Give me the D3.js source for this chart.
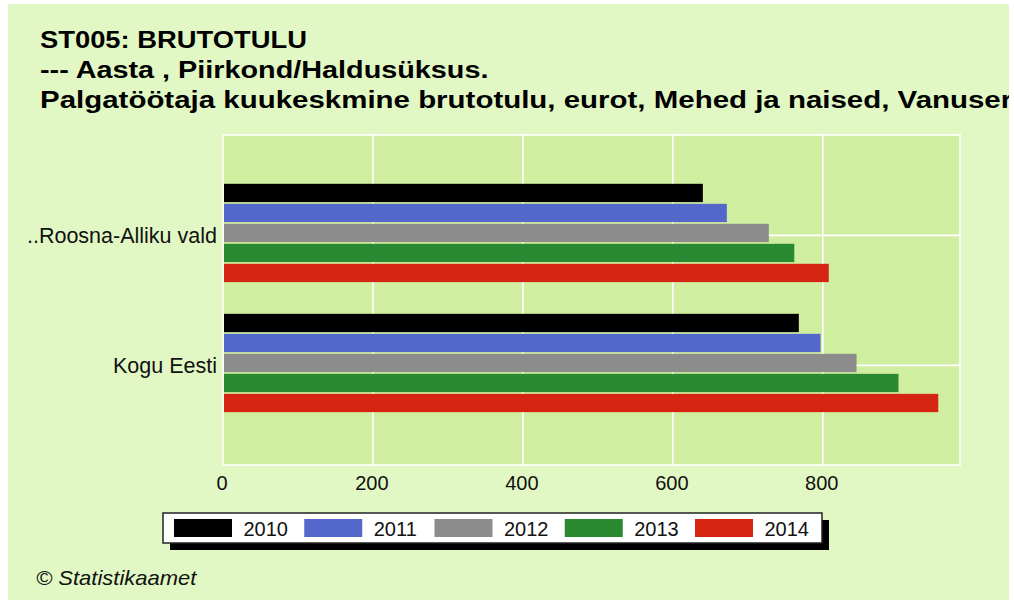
<!DOCTYPE html>
<html>
<head>
<meta charset="utf-8">
<script src="https://cdn.jsdelivr.net/npm/d3@7"></script>
<style>
  body { margin: 0; background: #ffffff; }
  svg { display: block; font-family: "Liberation Sans", Arial, sans-serif; }
</style>
</head>
<body>
<script>
// chart data
var categories = ["..Roosna-Alliku vald", "Kogu Eesti"];
var years = ["2010", "2011", "2012", "2013", "2014"];
var roosnaValues = [640, 672, 728, 762, 808];
var eestiValues = [768, 797, 845, 901, 954];
var xTicks = [0, 200, 400, 600, 800];
var xMax = 983;
var yearColors = ["#000000", "#5468cc", "#8c8c8c", "#2a8a32", "#d62412"];
var titleLines = [
  "ST005: BRUTOTULU",
  "--- Aasta , Piirkond/Haldusüksus.",
  "Palgatöötaja kuukeskmine brutotulu, eurot, Mehed ja naised, Vanuserühmad kokku"
];
var copyright = "© Statistikaamet";

function main(){
  var width = 1014, height = 600;
  var plot = {left: 223, right: 960, top: 135, bottom: 465};
  // the original font renders wider than Liberation, lowercase most of all
  var titleStretch = [1.14, 1.2, 1.228];

  var rows = categories.map(function(c, i){
    var vals = i == 0 ? roosnaValues : eestiValues;
    return {name: c, values: years.map(function(y, j){ return {year: y, value: vals[j], color: yearColors[j]}; })};
  });

  var svg = d3.select("body").append("svg")
    .attr("width", width)
    .attr("height", height);

  svg.append("clipPath").attr("id", "panelClip")
    .append("rect").attr("x", 8).attr("y", 4).attr("width", 1001).attr("height", 596);

  var panel = svg.append("g").attr("clip-path", "url(#panelClip)");
  panel.append("rect")
    .attr("x", 8).attr("y", 4).attr("width", 1001).attr("height", 596)
    .attr("fill", "#e2f8c4");

  // titles (last line runs past the panel edge, as in the original)
  panel.selectAll("text.title")
    .data(titleLines)
    .enter()
    .append("text")
    .attr("class", "title")
    .attr("transform", function(d, i){ return "translate(40," + (48 + i * 30) + ") scale(" + titleStretch[i] + ",1)"; })
    .attr("font-size", "24px")
    .attr("font-weight", "bold")
    .attr("fill", "#000")
    .text(function(d){ return d; });

  var x = d3.scaleLinear().domain([0, xMax]).range([plot.left, plot.right]);
  var y = d3.scaleBand().domain(categories).range([plot.top, plot.bottom])
    .paddingInner(0.244).paddingOuter(0.391).align(0.48);
  var yInner = d3.scaleBand().domain(years).range([0, y.bandwidth()]).paddingInner(0.085);

  // plot background
  panel.append("rect")
    .attr("x", plot.left).attr("y", plot.top)
    .attr("width", plot.right - plot.left).attr("height", plot.bottom - plot.top)
    .attr("fill", "#d0eea0");

  // grid
  panel.selectAll("line.vgrid")
    .data(xTicks.slice(1))
    .enter()
    .append("line")
    .attr("x1", function(d){ return x(d); })
    .attr("x2", function(d){ return x(d); })
    .attr("y1", plot.top).attr("y2", plot.bottom)
    .attr("stroke", "#ffffff").attr("stroke-width", 1.6);

  panel.selectAll("line.hgrid")
    .data(categories)
    .enter()
    .append("line")
    .attr("x1", plot.left).attr("x2", plot.right)
    .attr("y1", function(d){ return y(d) + y.bandwidth() / 2 + 2.4; })
    .attr("y2", function(d){ return y(d) + y.bandwidth() / 2 + 2.4; })
    .attr("stroke", "#ffffff").attr("stroke-width", 1.6);

  // bars
  var group = panel.selectAll("g.cat")
    .data(rows)
    .enter()
    .append("g")
    .attr("transform", function(d){ return "translate(0," + y(d.name) + ")"; });

  group.selectAll("rect")
    .data(function(d){ return d.values; })
    .enter()
    .append("rect")
    .attr("x", x(0) + 1)
    .attr("y", function(d){ return yInner(d.year); })
    .attr("width", function(d){ return x(d.value) - x(0) - 1; })
    .attr("height", yInner.bandwidth())
    .attr("fill", function(d){ return d.color; });

  // plot frame
  panel.append("rect")
    .attr("x", plot.left).attr("y", plot.top)
    .attr("width", plot.right - plot.left).attr("height", plot.bottom - plot.top)
    .attr("fill", "none").attr("stroke", "#ffffff").attr("stroke-width", 1.6);

  // category labels
  panel.selectAll("text.cat")
    .data(categories)
    .enter()
    .append("text")
    .attr("x", plot.left - 6)
    .attr("y", function(d){ return y(d) + y.bandwidth() / 2 + 2.4; })
    .attr("dy", "0.35em")
    .attr("text-anchor", "end")
    .attr("font-size", "21.5px")
    .attr("fill", "#111")
    .text(function(d){ return d; });

  // x tick labels
  panel.selectAll("text.tick")
    .data(xTicks)
    .enter()
    .append("text")
    .attr("x", function(d){ return x(d) - 1; })
    .attr("y", 490)
    .attr("text-anchor", "middle")
    .attr("font-size", "20px")
    .attr("fill", "#111")
    .text(function(d){ return d; });

  // legend
  var legend = {x: 163, y: 513, w: 659, h: 30, step: 130.25};
  panel.append("rect")
    .attr("x", legend.x + 7).attr("y", legend.y + 7)
    .attr("width", legend.w).attr("height", legend.h)
    .attr("fill", "#000");
  panel.append("rect")
    .attr("x", legend.x).attr("y", legend.y)
    .attr("width", legend.w).attr("height", legend.h)
    .attr("fill", "#fff").attr("stroke", "#222").attr("stroke-width", 1.5);

  var item = panel.selectAll("g.legend")
    .data(years)
    .enter()
    .append("g")
    .attr("transform", function(d, i){ return "translate(" + (legend.x + 11 + i * legend.step) + "," + (legend.y + 6) + ")"; });

  item.append("rect")
    .attr("width", 58).attr("height", 18)
    .attr("fill", function(d, i){ return yearColors[i]; });

  item.append("text")
    .attr("x", 69.5).attr("y", 17)
    .attr("font-size", "20px")
    .attr("fill", "#111")
    .text(function(d){ return d; });

  panel.append("text")
    .attr("transform", "translate(36,585) scale(1.1,1)")
    .attr("font-size", "20px")
    .attr("font-style", "italic")
    .attr("fill", "#111")
    .text(copyright);
}

main();
</script>
</body>
</html>
